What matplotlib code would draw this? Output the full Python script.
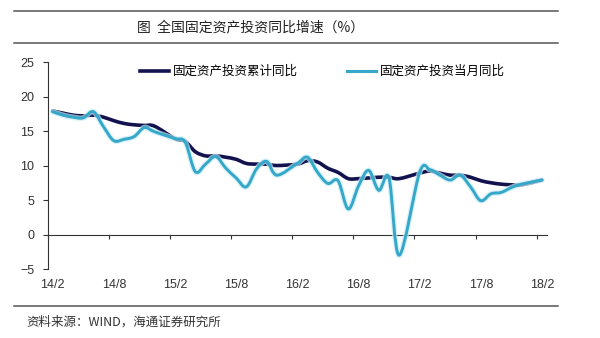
import numpy as np
import matplotlib
matplotlib.use("Agg")
import matplotlib.pyplot as plt
from matplotlib.path import Path
from matplotlib.patches import PathPatch
from matplotlib.lines import Line2D

plt.rcParams['font.family'] = ['Liberation Sans', 'Noto Sans CJK SC', 'DejaVu Sans']

# 月份（1月无单独数据，2月为1-2月合计）
months = (['2014-%02d' % m for m in range(2, 13)] +
          ['2015-%02d' % m for m in range(2, 13)] +
          ['2016-%02d' % m for m in range(2, 13)] +
          ['2017-%02d' % m for m in range(2, 13)] +
          ['2018-02'])

cum_yoy = [17.9, 17.6, 17.3, 17.2, 17.3, 17.0, 16.5, 16.1, 15.9, 15.8, 15.7,
           13.9, 13.5, 12.0, 11.4, 11.4, 11.2, 10.9, 10.3, 10.2, 10.2, 10.0,
           10.2, 10.7, 10.5, 9.6, 9.0, 8.1, 8.1, 8.2, 8.3, 8.3, 8.1,
           8.9, 9.2, 8.9, 8.6, 8.6, 8.3, 7.8, 7.5, 7.3, 7.2, 7.2,
           7.9]

month_yoy = [17.8, 17.3, 17.0, 16.9, 17.8, 15.6, 13.6, 13.8, 14.2, 15.5, 14.9,
             13.9, 13.4, 9.1, 10.2, 11.3, 9.6, 8.2, 6.9, 9.5, 10.6, 8.6,
             10.3, 11.2, 9.0, 7.4, 7.8, 3.7, 7.0, 9.3, 6.4, 8.2, -3.0,
             9.0, 9.4, 8.6, 7.9, 8.6, 6.9, 4.9, 5.9, 6.1, 6.8, 7.3,
             7.9]

tick_labels = ['14/2', '14/8', '15/2', '15/8', '16/2', '16/8', '17/2', '17/8', '18/2']
y_ticks = [-5, 0, 5, 10, 15, 20, 25]

series_names = ['固定资产投资累计同比', '固定资产投资当月同比']
dark_color = '#12124f'
light_color = '#35a7c8'
glow_color = '#c6ecf7'


def month_index(s):
    y, m = s.split('-')
    return (int(y) - 2014) * 12 + int(m) - 2


def smooth_path(x, y):
    # 平滑曲线：相邻点之间用三次贝塞尔连接
    pts = np.column_stack([x, y]).astype(float)
    n = len(pts)
    verts = [pts[0]]
    codes = [Path.MOVETO]
    for k in range(n - 1):
        p0 = pts[max(k - 1, 0)]
        p1 = pts[k]
        p2 = pts[k + 1]
        p3 = pts[min(k + 2, n - 1)]
        verts += [p1 + (p2 - p0) / 6, p2 - (p3 - p1) / 6, p2]
        codes += [Path.CURVE4] * 3
    return Path(verts, codes)


x = np.array([month_index(s) for s in months])

fig = plt.figure(figsize=(6, 3.38), dpi=100)
ax = fig.add_axes([0.0792, 0.2041, 0.8325, 0.6124])

path_cum = smooth_path(x, cum_yoy)
path_month = smooth_path(x, month_yoy)
ax.add_patch(PathPatch(path_cum, fill=False, lw=2.6, ec=dark_color,
                       capstyle='round', joinstyle='round', zorder=3))
ax.add_patch(PathPatch(path_month, fill=False, lw=4.0, ec=glow_color,
                       capstyle='round', joinstyle='round', alpha=0.7, zorder=4))
ax.add_patch(PathPatch(path_month, fill=False, lw=2.1, ec=light_color,
                       capstyle='round', joinstyle='round', zorder=5))

ax.set_xlim(-0.5, 48.5)
ax.set_ylim(-5, 25)

for s in ['top', 'right']:
    ax.spines[s].set_visible(False)
ax.spines['left'].set_color('#333333')
ax.spines['bottom'].set_color('#333333')
ax.spines['bottom'].set_position(('data', 0))

ax.set_yticks(y_ticks)
ax.tick_params(axis='y', direction='out', length=3.6, width=0.8,
               colors='#333333', labelsize=9, pad=6)
tick_pos = [i * 6 - 0.5 for i in range(len(tick_labels))]
ax.set_xticks(tick_pos)
ax.set_xticklabels([])
ax.tick_params(axis='x', direction='out', length=3, width=0.8, colors='#333333')
for i, lab in enumerate(tick_labels):
    ax.text(i * 6, -0.077, lab, transform=ax.get_xaxis_transform(),
            ha='center', va='center', fontsize=9, color='#333333')

handles = [Line2D([], [], color=dark_color, lw=2.6),
           Line2D([], [], color=light_color, lw=2.2)]
ax.legend(handles, series_names, ncol=2, frameon=False,
          loc='upper left', bbox_to_anchor=(140 / 600, 1 - 65 / 338),
          bbox_transform=fig.transFigure, borderpad=0, borderaxespad=0,
          handlelength=2.3, handletextpad=0.35, columnspacing=3.9,
          prop={'family': 'Noto Sans CJK SC', 'size': 9})

# 标题栏与来源
for yy in [11, 43, 306]:
    fig.add_artist(Line2D([14 / 600, 558 / 600], [1 - yy / 338, 1 - yy / 338],
                          color='#555555', lw=1.1))
fig.text(137 / 600, 1 - 27 / 338, '图  全国固定资产投资同比增速（%）',
         ha='left', va='center', fontsize=10, color='#222222',
         family=['Noto Sans CJK SC'], fontweight='medium')
fig.text(26 / 600, 1 - 322 / 338, '资料来源：WIND，海通证券研究所',
         ha='left', va='center', fontsize=9, color='#333333',
         family=['Noto Sans CJK SC', 'Liberation Sans'])

fig.savefig('out.png', dpi=100, facecolor='white')
